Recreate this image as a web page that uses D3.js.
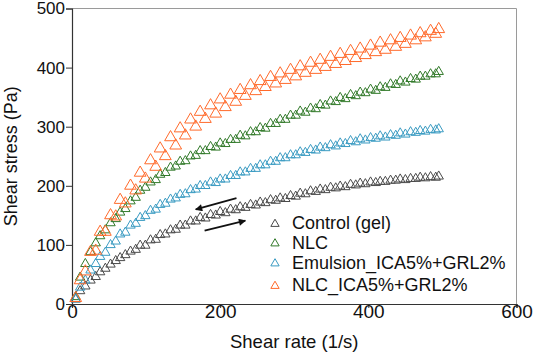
<!DOCTYPE html>
<html lang="en">
<head>
<meta charset="UTF-8" />
<title>Shear stress vs shear rate</title>
<script src="https://d3js.org/d3.v7.min.js"></script>
<style>
  body { margin: 0; background: #fff; }
  text { font-family: "Liberation Sans", Arial, sans-serif; fill: #111; }
</style>
</head>
<body>
<div id="chart"></div>
<script>
// shear rates of the up and down sweeps (1/s)
const rateUp = [5, 18, 32, 45, 59, 72, 86, 99, 113, 126, 140, 153, 167, 180, 194, 207, 221, 234, 248, 261, 275, 288, 302, 315, 329, 342, 356, 369, 383, 396, 410, 423, 437, 450, 464, 477, 491];
const rateDown = [495, 484, 470, 457, 443, 430, 416, 403, 389, 376, 362, 349, 335, 322, 308, 295, 281, 268, 254, 241, 227, 214, 200, 187, 173, 160, 146, 133, 119, 106, 92, 79, 65, 52, 38, 25, 11];

// shear stress (Pa)
const controlUp = [8, 30, 46, 60, 73, 83, 92, 99, 109, 118, 126, 133, 140, 145, 150, 154, 159, 163, 167, 171, 175, 178, 182, 186, 190, 193, 196, 198, 201, 203, 205, 207, 209, 210, 212, 213, 214];
const controlDown = [216, 215, 214, 212, 211, 209, 207, 206, 204, 202, 199, 197, 194, 191, 187, 183, 179, 176, 172, 168, 164, 160, 156, 151, 146, 140, 133, 125, 117, 108, 99, 89, 78, 67, 54, 40, 22];
const nlcUp = [12, 68, 103, 125, 144, 161, 180, 197, 210, 222, 233, 242, 251, 259, 265, 271, 278, 284, 291, 297, 305, 312, 319, 324, 330, 336, 342, 347, 352, 357, 361, 366, 371, 375, 380, 385, 389];
const nlcDown = [393, 389, 385, 381, 377, 372, 367, 363, 358, 354, 349, 343, 337, 331, 326, 319, 312, 305, 298, 291, 285, 278, 272, 266, 259, 250, 241, 231, 219, 206, 192, 174, 155, 137, 115, 88, 45];
const emulsionUp = [8, 40, 68, 87, 106, 121, 136, 149, 160, 170, 179, 186, 194, 200, 205, 211, 217, 223, 229, 235, 241, 247, 252, 256, 260, 264, 267, 271, 274, 277, 280, 282, 285, 287, 290, 292, 294];
const emulsionDown = [296, 295, 293, 291, 289, 286, 284, 281, 279, 276, 272, 269, 265, 261, 257, 252, 247, 241, 235, 229, 223, 217, 211, 206, 200, 193, 185, 177, 168, 158, 146, 133, 118, 100, 80, 57, 28];
const nlcIcaUp = [10, 55, 90, 122, 148, 170, 192, 212, 232, 250, 268, 285, 300, 313, 322, 333, 342, 352, 360, 367, 373, 379, 385, 391, 396, 401, 406, 411, 416, 421, 426, 430, 435, 440, 446, 451, 457];
const nlcIcaDown = [465, 462, 458, 454, 450, 446, 442, 437, 432, 428, 423, 418, 413, 408, 402, 396, 390, 384, 377, 370, 362, 354, 346, 336, 325, 312, 297, 282, 263, 243, 222, 200, 176, 150, 122, 88, 40];

const seriesNames = ["Control (gel)", "NLC", "Emulsion_ICA5%+GRL2%", "NLC_ICA5%+GRL2%"];
const seriesUp = [controlUp, nlcUp, emulsionUp, nlcIcaUp];
const seriesDown = [controlDown, nlcDown, emulsionDown, nlcIcaDown];
const colors = ["#4a4a4a", "#327a2a", "#3a9bc2", "#ff6a2b"];
const markerSize = [38, 38, 38, 60];

const xTicks = [0, 200, 400, 600];
const yTicks = [0, 100, 200, 300, 400, 500];

const W = 533, H = 353;
const pad = { left: 72, right: 516.5, top: 8.5, bottom: 304 };

const svg = d3.select("#chart").append("svg")
  .attr("width", W).attr("height", H);

const x = d3.scaleLinear().domain([0, 600]).range([pad.left, pad.right]);
const y = d3.scaleLinear().domain([0, 500]).range([pad.bottom, pad.top]);

// frame (top and right)
svg.append("path")
  .attr("d", `M${pad.left},${pad.top}H${pad.right}V${pad.bottom}`)
  .attr("fill", "none").attr("stroke", "#9a9a9a").attr("stroke-width", 1);

// axes
const xAxis = svg.append("g")
  .attr("transform", `translate(0,${pad.bottom})`)
  .call(d3.axisBottom(x).tickValues(xTicks).tickSize(4).tickPadding(0));
const yAxis = svg.append("g")
  .attr("transform", `translate(${pad.left},0)`)
  .call(d3.axisLeft(y).tickValues(yTicks).tickSize(6).tickPadding(1));

[xAxis, yAxis].forEach(g => {
  g.select(".domain").attr("stroke", "#333").attr("stroke-width", 1.2);
  g.selectAll(".tick line").attr("stroke", "#333");
  g.selectAll(".tick text")
    .style("font-family", "'Liberation Sans', Arial, sans-serif")
    .attr("fill", "#111");
});
xAxis.selectAll(".tick text").style("font-size", "19px")
  .attr("y", 0).attr("dy", "0.71em");
yAxis.selectAll(".tick text").style("font-size", "17px");

// axis titles
svg.append("text")
  .attr("x", (pad.left + pad.right) / 2).attr("y", 348)
  .attr("text-anchor", "middle").style("font-size", "18.5px")
  .text("Shear rate (1/s)");
svg.append("text")
  .attr("transform", `translate(17,${(pad.top + pad.bottom) / 2}) rotate(-90)`)
  .attr("text-anchor", "middle").style("font-size", "18px")
  .text("Shear stress (Pa)");

// data points
seriesNames.forEach((name, i) => {
  const pts = rateUp.map((r, j) => ({ r, s: seriesUp[i][j] }))
    .concat(rateDown.map((r, j) => ({ r, s: seriesDown[i][j] })));
  const sym = d3.symbol(d3.symbolTriangle, markerSize[i]);
  svg.append("g").selectAll("path")
    .data(pts).enter().append("path")
    .attr("d", sym)
    .attr("transform", d => `translate(${x(d.r)},${y(d.s)})`)
    .attr("fill", "none")
    .attr("stroke", colors[i])
    .attr("stroke-width", 1);
});

// arrows for sweep direction
const defs = svg.append("defs");
defs.append("marker")
  .attr("id", "head").attr("viewBox", "0 0 10 10")
  .attr("refX", 9).attr("refY", 5)
  .attr("markerWidth", 4.5).attr("markerHeight", 4)
  .attr("orient", "auto")
  .append("path").attr("d", "M0,0L10,5L0,10z").attr("fill", "#111");

const arrows = [
  { from: [222, 179], to: [167, 160] },
  { from: [179, 124], to: [234, 141] }
];
arrows.forEach(a => {
  svg.append("line")
    .attr("x1", x(a.from[0])).attr("y1", y(a.from[1]))
    .attr("x2", x(a.to[0])).attr("y2", y(a.to[1]))
    .attr("stroke", "#111").attr("stroke-width", 1.8)
    .attr("marker-end", "url(#head)");
});

// legend
const legendY = [223, 242.5, 262.5, 285];
const legend = svg.append("g");
seriesNames.forEach((name, i) => {
  legend.append("path")
    .attr("d", d3.symbol(d3.symbolTriangle, 30)())
    .attr("transform", `translate(275,${legendY[i] + 1})`)
    .attr("fill", "none").attr("stroke", colors[i]).attr("stroke-width", 1);
  legend.append("text")
    .attr("x", 292).attr("y", legendY[i])
    .attr("dy", "0.36em")
    .style("font-size", "18px")
    .text(name);
});
</script>
</body>
</html>
